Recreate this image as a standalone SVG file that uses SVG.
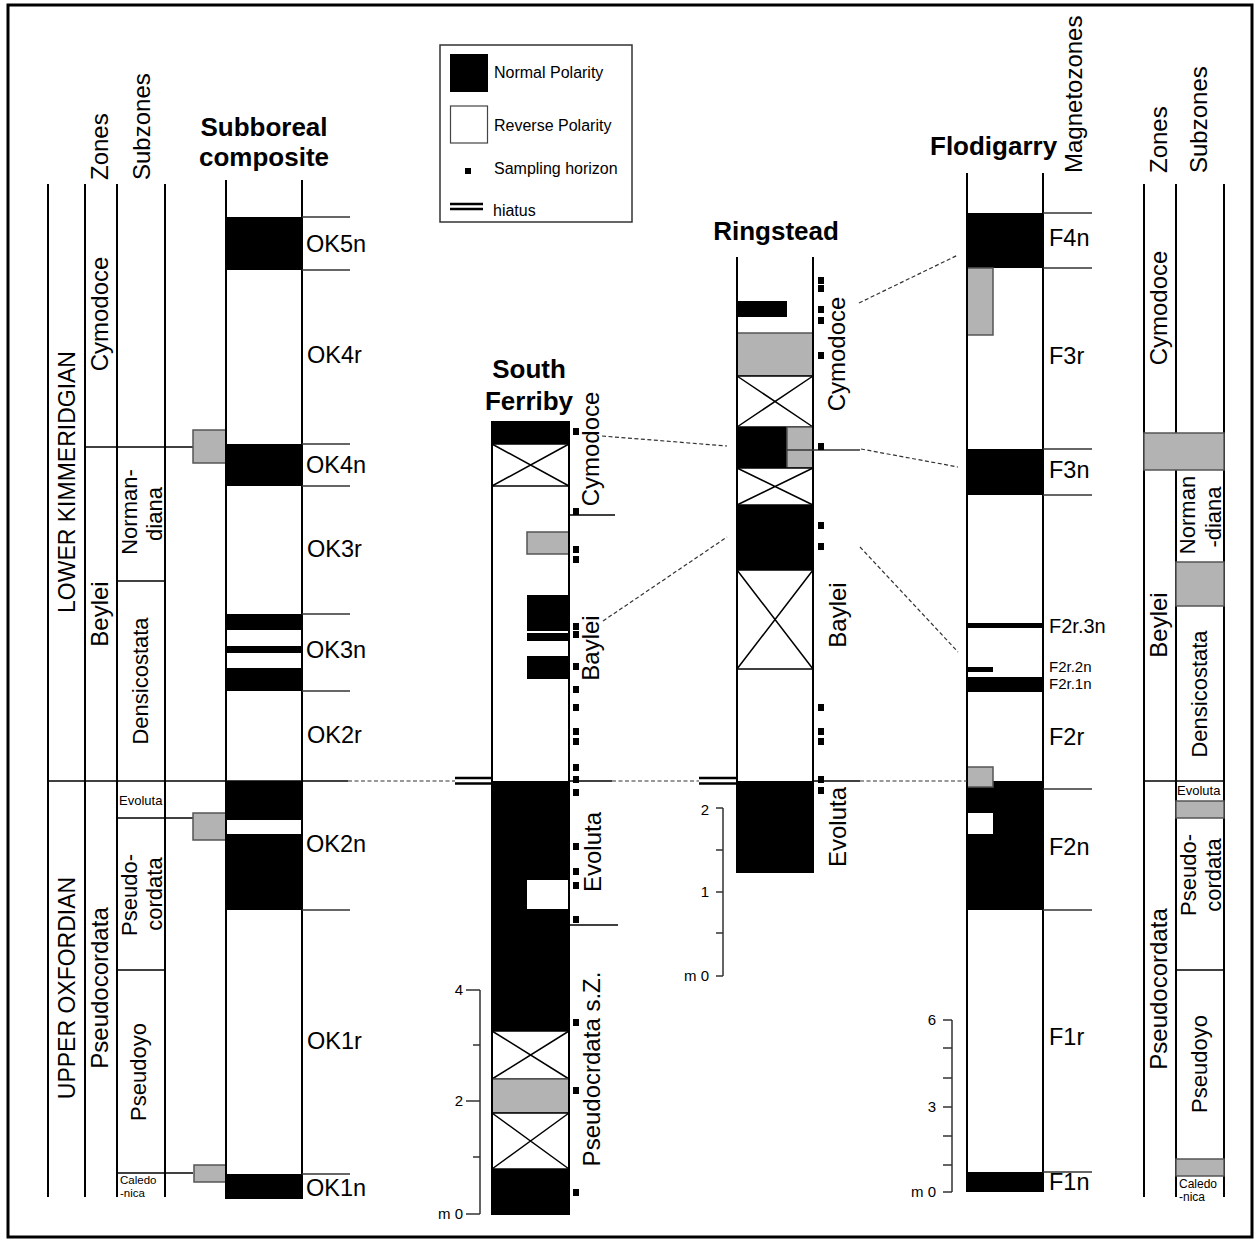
<svg xmlns="http://www.w3.org/2000/svg" width="1260" height="1242" viewBox="0 0 1260 1242">
<style>
.t{font-family:"Liberation Sans",Arial,Helvetica,sans-serif;fill:#000}
.b{font-weight:bold;font-size:26px}
.z{font-size:24px}
.s{font-size:22px}
.m{font-size:23.5px}
.sm{font-size:13px}
.lg{font-size:16px}
.sc{font-size:15px}
.blk{fill:#000}
.gry{fill:#b3b3b3;stroke:#555;stroke-width:1.5}
.wht{fill:#fff}
.cl{stroke:#000;stroke-width:2;fill:none}
.ln{stroke:#000;stroke-width:1.5;fill:none}
.tk{stroke:#333;stroke-width:1.5;fill:none}
.xb{fill:#fff;stroke:#000;stroke-width:1.5}
.dash{stroke:#333;stroke-width:1.2;stroke-dasharray:4 2.5;fill:none}
.hi{stroke:#000;stroke-width:2.5;fill:none}
</style>
<defs>
<rect id="sq" width="6" height="7" class="blk"/>
</defs>
<rect x="0" y="0" width="1260" height="1242" fill="#fff"/>
<rect x="8" y="5" width="1244" height="1232" fill="none" stroke="#000" stroke-width="3"/>

<!-- Legend -->
<g id="legend">
<rect x="440" y="45" width="192" height="177" fill="#fff" stroke="#333" stroke-width="1.5"/>
<rect x="450" y="54" width="38" height="38" class="blk"/>
<rect x="450.5" y="106" width="37" height="37" fill="#fff" stroke="#444" stroke-width="1.2"/>
<rect x="465" y="168" width="6" height="6" class="blk"/>
<line x1="450" y1="204" x2="483" y2="204" class="hi"/>
<line x1="450" y1="209" x2="483" y2="209" class="hi"/>
<text class="t lg" x="494" y="78">Normal Polarity</text>
<text class="t lg" x="494" y="131">Reverse Polarity</text>
<text class="t lg" x="494" y="174">Sampling horizon</text>
<text class="t lg" x="493" y="216">hiatus</text>
</g>

<!-- Left zonal scheme -->
<g id="left-zones">
<line x1="48" y1="184" x2="48" y2="1197" class="cl"/>
<line x1="85" y1="184" x2="85" y2="1197" class="cl"/>
<line x1="117" y1="184" x2="117" y2="1197" class="cl"/>
<line x1="165" y1="184" x2="165" y2="1197" class="cl"/>
<line x1="85" y1="447" x2="193" y2="447" class="ln"/>
<line x1="117" y1="581" x2="165" y2="581" class="ln"/>
<line x1="117" y1="818" x2="193" y2="818" class="ln"/>
<line x1="117" y1="970" x2="165" y2="970" class="ln"/>
<line x1="117" y1="1173" x2="193" y2="1173" class="ln"/>
<rect x="193" y="430" width="33" height="33" class="gry"/>
<rect x="193" y="813" width="33" height="27" class="gry"/>
<rect x="194" y="1165" width="32" height="17" class="gry"/>
<text class="t z" transform="translate(108,180) rotate(-90)">Zones</text>
<text class="t z" transform="translate(150,180) rotate(-90)">Subzones</text>
<text class="t" font-size="23" text-anchor="middle" transform="translate(75,482) rotate(-90)">LOWER KIMMERIDGIAN</text>
<text class="t" font-size="23" text-anchor="middle" transform="translate(75,988) rotate(-90)">UPPER OXFORDIAN</text>
<text class="t z" text-anchor="middle" transform="translate(108,314) rotate(-90)">Cymodoce</text>
<text class="t z" text-anchor="middle" transform="translate(108,614) rotate(-90)">Beylei</text>
<text class="t z" text-anchor="middle" transform="translate(108,988) rotate(-90)">Pseudocordata</text>
<text class="t s" text-anchor="middle" transform="translate(137,512) rotate(-90)">Norman-</text>
<text class="t s" text-anchor="middle" transform="translate(162,514) rotate(-90)">diana</text>
<text class="t s" text-anchor="middle" transform="translate(148,681) rotate(-90)">Densicostata</text>
<text class="t s" text-anchor="middle" transform="translate(137,895) rotate(-90)">Pseudo-</text>
<text class="t s" text-anchor="middle" transform="translate(162,894) rotate(-90)">cordata</text>
<text class="t s" text-anchor="middle" transform="translate(146,1072) rotate(-90)">Pseudoyo</text>
<text class="t sm" x="119" y="805">Evoluta</text>
<text class="t" font-size="11.5" x="120" y="1184">Caledo</text>
<text class="t" font-size="11.5" x="120" y="1197">-nica</text>
</g>

<!-- Subboreal composite -->
<g id="subboreal">
<text class="t b" text-anchor="middle" x="264" y="136">Subboreal</text>
<text class="t b" text-anchor="middle" x="264" y="166">composite</text>
<rect x="226" y="217" width="76" height="53" class="blk"/>
<rect x="226" y="444" width="76" height="42" class="blk"/>
<rect x="226" y="614" width="76" height="16" class="blk"/>
<rect x="226" y="646" width="76" height="7" class="blk"/>
<rect x="226" y="668" width="76" height="23" class="blk"/>
<rect x="226" y="781" width="76" height="39" class="blk"/>
<rect x="226" y="834" width="76" height="76" class="blk"/>
<rect x="226" y="1174" width="76" height="25" class="blk"/>
<line x1="226" y1="180" x2="226" y2="1199" class="cl"/>
<line x1="302" y1="180" x2="302" y2="1199" class="cl"/>
<g class="tk">
<line x1="302" y1="217" x2="350" y2="217"/>
<line x1="302" y1="270" x2="350" y2="270"/>
<line x1="302" y1="444" x2="350" y2="444"/>
<line x1="302" y1="486" x2="350" y2="486"/>
<line x1="302" y1="614" x2="350" y2="614"/>
<line x1="302" y1="691" x2="350" y2="691"/>
<line x1="302" y1="910" x2="350" y2="910"/>
<line x1="302" y1="1174" x2="350" y2="1174"/>
</g>
<text class="t m" x="306" y="252">OK5n</text>
<text class="t m" x="307" y="363">OK4r</text>
<text class="t m" x="306" y="473">OK4n</text>
<text class="t m" x="307" y="557">OK3r</text>
<text class="t m" x="306" y="658">OK3n</text>
<text class="t m" x="307" y="743">OK2r</text>
<text class="t m" x="306" y="852">OK2n</text>
<text class="t m" x="307" y="1049">OK1r</text>
<text class="t m" x="306" y="1196">OK1n</text>
</g>

<!-- South Ferriby -->
<g id="south-ferriby">
<text class="t b" text-anchor="middle" x="529" y="378">South</text>
<text class="t b" text-anchor="middle" x="529" y="410">Ferriby</text>
<rect x="492" y="421" width="77" height="794" fill="#fff"/>
<rect x="492" y="421" width="77" height="23" class="blk"/>
<rect x="492" y="444" width="77" height="42" class="xb"/>
<path d="M492 444L569 486M569 444L492 486" class="ln"/>
<rect x="527" y="532" width="42" height="22" class="gry"/>
<rect x="527" y="595" width="42" height="36" class="blk"/>
<rect x="527" y="633" width="42" height="8" class="blk"/>
<rect x="527" y="656" width="42" height="23" class="blk"/>
<rect x="492" y="781" width="77" height="250" class="blk"/>
<rect x="527" y="880" width="41" height="29" class="wht"/>
<rect x="492" y="1031" width="77" height="48" class="xb"/>
<path d="M492 1031L569 1079M569 1031L492 1079" class="ln"/>
<rect x="492" y="1079" width="77" height="34" class="gry"/>
<rect x="492" y="1113" width="77" height="56" class="xb"/>
<path d="M492 1113L569 1169M569 1113L492 1169" class="ln"/>
<rect x="492" y="1169" width="77" height="46" class="blk"/>
<line x1="492" y1="421" x2="492" y2="1215" class="cl"/>
<line x1="569" y1="421" x2="569" y2="1215" class="cl"/>
<line x1="569" y1="515" x2="615" y2="515" class="ln"/>
<line x1="569" y1="925" x2="618" y2="925" class="ln"/>
<line x1="455" y1="778" x2="492" y2="778" class="hi"/>
<line x1="455" y1="783.5" x2="492" y2="783.5" class="hi"/>
<g>
<use href="#sq" x="573" y="428"/>
<use href="#sq" x="573" y="508"/>
<use href="#sq" x="573" y="546"/>
<use href="#sq" x="573" y="556"/>
<use href="#sq" x="573" y="623"/>
<use href="#sq" x="573" y="631"/>
<use href="#sq" x="573" y="663"/>
<use href="#sq" x="573" y="686"/>
<use href="#sq" x="573" y="704"/>
<use href="#sq" x="573" y="728"/>
<use href="#sq" x="573" y="738"/>
<use href="#sq" x="573" y="764"/>
<use href="#sq" x="573" y="776"/>
<use href="#sq" x="573" y="789"/>
<use href="#sq" x="573" y="843"/>
<use href="#sq" x="573" y="868"/>
<use href="#sq" x="573" y="882"/>
<use href="#sq" x="573" y="916"/>
<use href="#sq" x="573" y="1019"/>
<use href="#sq" x="573" y="1087"/>
<use href="#sq" x="573" y="1189"/>
</g>
<text class="t z" text-anchor="middle" transform="translate(599,449) rotate(-90)">Cymodoce</text>
<text class="t z" text-anchor="middle" transform="translate(599,648) rotate(-90)">Baylei</text>
<text class="t z" text-anchor="middle" transform="translate(601,852) rotate(-90)">Evoluta</text>
<text class="t z" text-anchor="middle" transform="translate(600,1069) rotate(-90)">Pseudocrdata s.Z.</text>
<path d="M480 990V1214M466 990H480M473 1045H480M466 1101H480M473 1157H480M466 1214H480" class="tk"/>
<text class="t sc" text-anchor="end" x="463" y="995">4</text>
<text class="t sc" text-anchor="end" x="463" y="1106">2</text>
<text class="t sc" text-anchor="end" x="463" y="1219">m 0</text>
</g>

<!-- Ringstead -->
<g id="ringstead">
<text class="t b" text-anchor="middle" x="776" y="240">Ringstead</text>
<rect x="737" y="301" width="50" height="16" class="blk"/>
<rect x="737" y="333" width="76" height="43" class="gry"/>
<rect x="737" y="376" width="76" height="51" class="xb"/>
<path d="M737 376L813 427M813 376L737 427" class="ln"/>
<rect x="737" y="427" width="50" height="41" class="blk"/>
<rect x="787" y="427" width="26" height="41" class="gry"/>
<rect x="737" y="468" width="76" height="37" class="xb"/>
<path d="M737 468L813 505M813 468L737 505" class="ln"/>
<rect x="737" y="505" width="76" height="65" class="blk"/>
<rect x="737" y="570" width="76" height="99" class="xb"/>
<path d="M737 570L813 669M813 570L737 669" class="ln"/>
<rect x="737" y="781" width="76" height="92" class="blk"/>
<line x1="737" y1="257" x2="737" y2="873" class="cl"/>
<line x1="813" y1="257" x2="813" y2="873" class="cl"/>
<line x1="787" y1="450" x2="860" y2="450" class="tk"/>
<line x1="699" y1="778" x2="737" y2="778" class="hi"/>
<line x1="699" y1="783.5" x2="737" y2="783.5" class="hi"/>
<g>
<use href="#sq" x="818" y="277"/>
<use href="#sq" x="818" y="285"/>
<use href="#sq" x="818" y="306"/>
<use href="#sq" x="818" y="317"/>
<use href="#sq" x="818" y="352"/>
<use href="#sq" x="818" y="443"/>
<use href="#sq" x="818" y="522"/>
<use href="#sq" x="818" y="543"/>
<use href="#sq" x="818" y="704"/>
<use href="#sq" x="818" y="728"/>
<use href="#sq" x="818" y="738"/>
<use href="#sq" x="818" y="776"/>
<use href="#sq" x="818" y="787"/>
</g>
<text class="t z" text-anchor="middle" transform="translate(845,354) rotate(-90)">Cymodoce</text>
<text class="t z" text-anchor="middle" transform="translate(846,615) rotate(-90)">Baylei</text>
<text class="t z" text-anchor="middle" transform="translate(846,827) rotate(-90)">Evoluta</text>
<path d="M723 808V976M716 808H723M716 850H723M716 892H723M716 933H723M716 976H723" class="tk"/>
<text class="t sc" text-anchor="end" x="709" y="815">2</text>
<text class="t sc" text-anchor="end" x="709" y="897">1</text>
<text class="t sc" text-anchor="end" x="709" y="981">m 0</text>
</g>

<!-- Flodigarry -->
<g id="flodigarry">
<text class="t b" x="930" y="155">Flodigarry</text>
<text class="t z" transform="translate(1082,173) rotate(-90)">Magnetozones</text>
<rect x="967" y="213" width="76" height="55" class="blk"/>
<rect x="967" y="268" width="26" height="67" class="gry"/>
<rect x="967" y="449" width="76" height="46" class="blk"/>
<rect x="967" y="623" width="76" height="5" class="blk"/>
<rect x="967" y="667" width="26" height="5" class="blk"/>
<rect x="967" y="677" width="76" height="15" class="blk"/>
<rect x="967" y="781" width="76" height="129" class="blk"/>
<rect x="967" y="767" width="26" height="20" class="gry"/>
<rect x="967" y="813" width="26" height="21" class="wht"/>
<rect x="967" y="1172" width="76" height="20" class="blk"/>
<line x1="967" y1="173" x2="967" y2="1192" class="cl"/>
<line x1="1043" y1="173" x2="1043" y2="1192" class="cl"/>
<g class="tk">
<line x1="1043" y1="213" x2="1092" y2="213"/>
<line x1="1043" y1="268" x2="1092" y2="268"/>
<line x1="1043" y1="449" x2="1092" y2="449"/>
<line x1="1043" y1="495" x2="1092" y2="495"/>
<line x1="1043" y1="789" x2="1092" y2="789"/>
<line x1="1043" y1="910" x2="1092" y2="910"/>
<line x1="1043" y1="1172" x2="1092" y2="1172"/>
</g>
<text class="t m" x="1049" y="246">F4n</text>
<text class="t m" x="1049" y="364">F3r</text>
<text class="t m" x="1049" y="478">F3n</text>
<text class="t" font-size="20" x="1049" y="633">F2r.3n</text>
<text class="t" font-size="15" x="1049" y="672">F2r.2n</text>
<text class="t" font-size="15" x="1049" y="689">F2r.1n</text>
<text class="t m" x="1049" y="745">F2r</text>
<text class="t m" x="1049" y="855">F2n</text>
<text class="t m" x="1049" y="1045">F1r</text>
<text class="t m" x="1049" y="1190">F1n</text>
<path d="M952 1020V1192M943 1020H952M943 1048H952M943 1078H952M943 1107H952M943 1136H952M943 1165H952M943 1192H952" class="tk"/>
<text class="t sc" text-anchor="end" x="936" y="1025">6</text>
<text class="t sc" text-anchor="end" x="936" y="1112">3</text>
<text class="t sc" text-anchor="end" x="936" y="1197">m 0</text>
</g>

<!-- Right zonal scheme -->
<g id="right-zones">
<line x1="1144" y1="184" x2="1144" y2="1197" class="cl"/>
<line x1="1176" y1="184" x2="1176" y2="433" class="cl"/>
<line x1="1176" y1="470" x2="1176" y2="1197" class="cl"/>
<line x1="1224" y1="184" x2="1224" y2="1197" class="cl"/>
<rect x="1144" y="433" width="80" height="37" class="gry"/>
<rect x="1176" y="562" width="48" height="44" class="gry"/>
<line x1="1144" y1="781" x2="1224" y2="781" class="ln"/>
<rect x="1176" y="801" width="48" height="17" class="gry"/>
<line x1="1176" y1="970" x2="1224" y2="970" class="ln"/>
<rect x="1176" y="1159" width="48" height="17" class="gry"/>
<text class="t z" transform="translate(1167,173) rotate(-90)">Zones</text>
<text class="t z" transform="translate(1207,173) rotate(-90)">Subzones</text>
<text class="t z" text-anchor="middle" transform="translate(1167,308) rotate(-90)">Cymodoce</text>
<text class="t z" text-anchor="middle" transform="translate(1167,625) rotate(-90)">Beylei</text>
<text class="t z" text-anchor="middle" transform="translate(1167,989) rotate(-90)">Pseudocordata</text>
<text class="t s" text-anchor="middle" transform="translate(1195,515) rotate(-90)">Norman</text>
<text class="t s" text-anchor="middle" transform="translate(1221,517) rotate(-90)">-diana</text>
<text class="t s" text-anchor="middle" transform="translate(1207,694) rotate(-90)">Densicostata</text>
<text class="t s" text-anchor="middle" transform="translate(1196,875) rotate(-90)">Pseudo-</text>
<text class="t s" text-anchor="middle" transform="translate(1221,875) rotate(-90)">cordata</text>
<text class="t s" text-anchor="middle" transform="translate(1207,1064) rotate(-90)">Pseudoyo</text>
<text class="t sm" x="1177" y="795">Evoluta</text>
<text class="t" font-size="12" x="1179" y="1188">Caledo</text>
<text class="t" font-size="12" x="1179" y="1201">-nica</text>
</g>

<!-- Connectors -->
<g id="connectors">
<line x1="48" y1="781" x2="348" y2="781" class="ln"/>
<line x1="569" y1="781" x2="612" y2="781" class="ln"/>
<line x1="813" y1="781" x2="860" y2="781" class="ln"/>
<line x1="348" y1="781" x2="455" y2="781" class="dash"/>
<line x1="612" y1="781" x2="699" y2="781" class="dash"/>
<line x1="860" y1="781" x2="967" y2="781" class="dash"/>
<line x1="602" y1="436" x2="727" y2="446" class="dash"/>
<line x1="603" y1="621" x2="727" y2="537" class="dash"/>
<line x1="859" y1="303" x2="958" y2="255" class="dash"/>
<line x1="861" y1="449" x2="958" y2="467" class="dash"/>
<line x1="860" y1="547" x2="958" y2="652" class="dash"/>
</g>
</svg>
